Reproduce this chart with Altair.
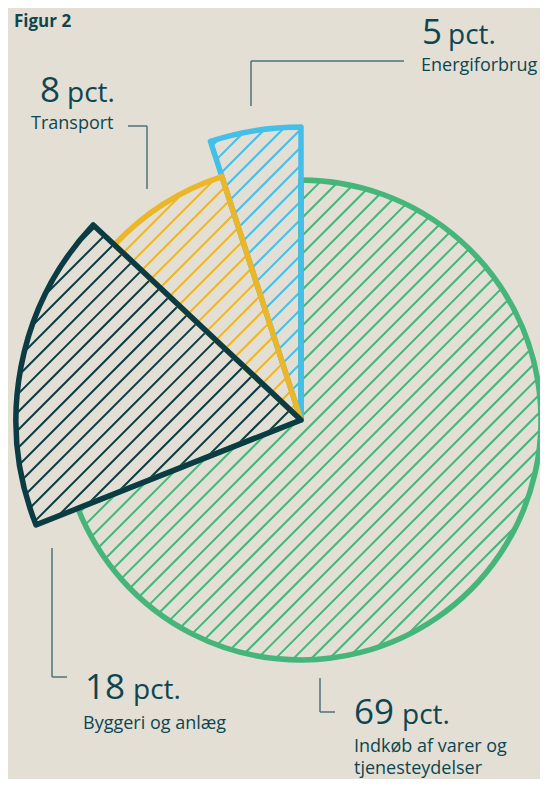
import math
import altair as alt
import pandas as pd

# ---------------- data ----------------
categories = ["Indkøb af varer og tjenesteydelser", "Byggeri og anlæg", "Transport", "Energiforbrug"]
shares = [69, 18, 8, 5]
value_labels = ["69", "18", "8", "5"]
unit_label = "pct."
label_lines = [["Indkøb af varer og", "tjenesteydelser"], ["Byggeri og anlæg"], ["Transport"], ["Energiforbrug"]]
figure_title = "Figur 2"

# ---------------- styles / layout ----------------
colors = ["#46b57a", "#0b3b43", "#ecb629", "#44bfe7"]
slice_radius = [240, 285, 256, 293]      # decorative radius of each slice (px)
draw_order = [0, 3, 2, 1]                # green, blue, yellow, dark on top
W, H = 532, 771
CX, CY = 293, 412                        # pie centre in chart px
HATCH_SPACING = 18
TEXT = "#0d4651"
LEADER = "#4e7378"
BG = "#e3dfd4"
FONT = "Open Sans"

# ---------------- slice table ----------------
total = sum(shares)
cum = [sum(shares[:i]) for i in range(len(shares) + 1)]
angles = [(cum[i] / total * 2 * math.pi, cum[i + 1] / total * 2 * math.pi) for i in range(len(shares))]
rows = []
for i in draw_order:
    rows.append({"cat": categories[i], "t0": cum[i], "t1": cum[i + 1], "r": slice_radius[i]})
slices = pd.DataFrame(rows)


def hatch(cx, cy, R, a0, a1, s):
    segs = []
    r2 = math.sqrt(2)
    cmin, cmax = cx + cy - R * r2, cx + cy + R * r2
    for k in range(math.ceil(cmin / s), math.floor(cmax / s) + 1):
        c = k * s
        d = c - cx - cy
        disc = 2 * R * R - d * d
        if disc <= 0:
            continue
        u1, u2 = (d - math.sqrt(disc)) / 2, (d + math.sqrt(disc)) / 2
        ts = [u1, u2]
        for a in (a0, a1):
            den = math.sin(a) - math.cos(a)
            if abs(den) > 1e-9:
                r = d / den
                if 0 < r < R:
                    ts.append(r * math.sin(a))
        ts = sorted(t for t in ts if u1 - 1e-9 <= t <= u2 + 1e-9)
        for p, q in zip(ts[:-1], ts[1:]):
            if q - p < 1e-6:
                continue
            m = (p + q) / 2
            v = d - m
            th = math.atan2(m, -v) % (2 * math.pi)
            if a0 <= th <= a1:
                segs.append((cx + p, cy + d - p, cx + q, cy + d - q))
    return segs


hrows = []
for i in range(len(shares)):
    a0, a1 = angles[i]
    for (x1, y1, x2, y2) in hatch(CX, CY, slice_radius[i], a0, a1, HATCH_SPACING):
        hrows.append({"cat": categories[i], "x": x1, "y": y1, "x2": x2, "y2": y2})
hatch_df = pd.DataFrame(hrows)

color_scale = alt.Scale(domain=categories, range=colors)

hatch_layer = alt.Chart(hatch_df).mark_rule(strokeWidth=2).encode(
    x=alt.X("x:Q", scale=None, axis=None),
    y=alt.Y("y:Q", scale=None, axis=None),
    x2="x2:Q",
    y2="y2:Q",
    color=alt.Color("cat:N", scale=color_scale, legend=None),
)

arc_layer = alt.Chart(slices).mark_arc(strokeWidth=5.5, strokeJoin="round", fillOpacity=0).encode(
    theta=alt.Theta("t0:Q", scale=alt.Scale(domain=[0, total], range=[0, 2 * math.pi])),
    theta2="t1:Q",
    radius=alt.Radius("r:Q", scale=None),
    stroke=alt.Stroke("cat:N", scale=color_scale, legend=None),
    fill=alt.value(BG),
    x=alt.value(CX),
    y=alt.value(CY),
)

# ---------------- annotations (page px -> chart px: minus 8) ----------------
o = 8
leaders = pd.DataFrame([
    {"x": 251 - o, "y": 106 - o, "x2": 251 - o, "y2": 61 - o},
    {"x": 251 - o, "y": 61 - o, "x2": 404 - o, "y2": 61 - o},
    {"x": 128 - o, "y": 126 - o, "x2": 147 - o, "y2": 126 - o},
    {"x": 147 - o, "y": 126 - o, "x2": 147 - o, "y2": 189 - o},
    {"x": 52 - o, "y": 548 - o, "x2": 52 - o, "y2": 677 - o},
    {"x": 52 - o, "y": 677 - o, "x2": 67 - o, "y2": 677 - o},
    {"x": 320 - o, "y": 678 - o, "x2": 320 - o, "y2": 712 - o},
    {"x": 320 - o, "y": 712 - o, "x2": 335 - o, "y2": 712 - o},
])
leader_layer = alt.Chart(leaders).mark_rule(strokeWidth=1.5, color=LEADER).encode(
    x=alt.X("x:Q", scale=None, axis=None), y=alt.Y("y:Q", scale=None, axis=None), x2="x2:Q", y2="y2:Q"
)

# label anchor (page px) per slice: (value x, value baseline, pct x, label x, label baseline)
anchors = [
    (354, 724, 402, 354, 752),
    (85, 699, 133, 83, 729),
    (40, 102, 67, 31, 129),
    (422, 44, 448, 421, 71),
]
big_rows, pct_rows, lab_rows = [], [], []
for i, (vx, vy, px, lx, ly) in enumerate(anchors):
    big_rows.append({"x": vx - o, "y": vy - o, "t": value_labels[i]})
    pct_rows.append({"x": px - o, "y": vy - o, "t": unit_label})
    for j, line in enumerate(label_lines[i]):
        lab_rows.append({"x": lx - o, "y": ly - o + 22 * j, "t": line})


def text_layer(rows, size, weight="normal"):
    return alt.Chart(pd.DataFrame(rows)).mark_text(
        align="left", baseline="alphabetic", font=FONT, fontSize=size, fontWeight=weight, color=TEXT
    ).encode(x=alt.X("x:Q", scale=None, axis=None), y=alt.Y("y:Q", scale=None, axis=None), text="t:N")


big_layer = text_layer(big_rows, 35)
pct_layer = text_layer(pct_rows, 28)
lab_layer = text_layer(lab_rows, 18)
title_layer = text_layer([{"x": 14 - o, "y": 19, "t": figure_title}], 17, "bold")

chart = alt.layer(
    hatch_layer, arc_layer, leader_layer, big_layer, pct_layer, lab_layer, title_layer
).properties(
    width=W, height=H, padding=0, autosize="none", background=BG
).configure_view(stroke=None)

chart.save("out.html", embed_options={"renderer": "svg", "actions": False})
